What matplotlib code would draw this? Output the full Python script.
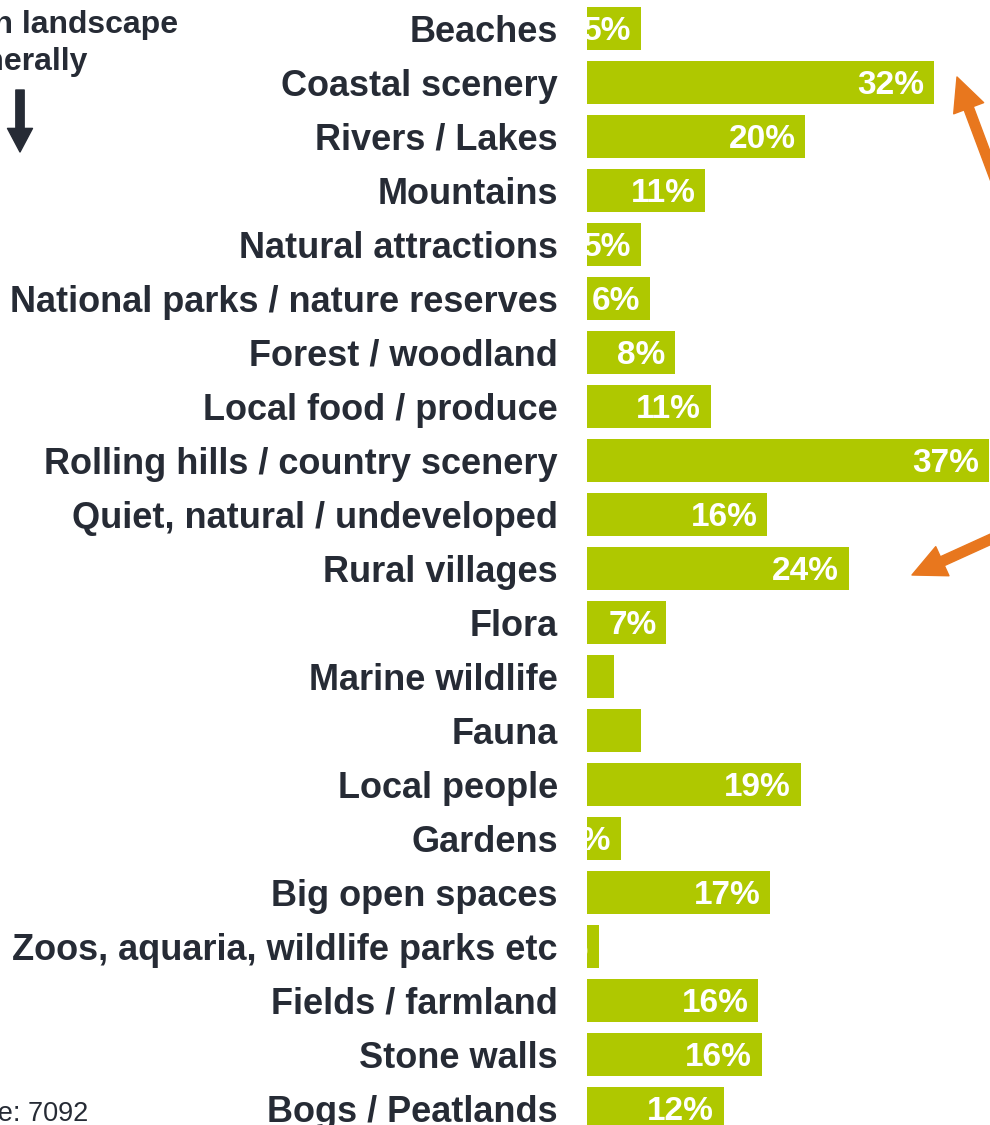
import matplotlib.pyplot as plt

plt.rcParams['font.family'] = ['Liberation Sans', 'DejaVu Sans']

categories = ['Beaches', 'Coastal scenery', 'Rivers / Lakes', 'Mountains', 'Natural attractions',
              'National parks / nature reserves', 'Forest / woodland', 'Local food / produce',
              'Rolling hills / country scenery', 'Quiet, natural / undeveloped', 'Rural villages',
              'Flora', 'Marine wildlife', 'Fauna', 'Local people', 'Gardens', 'Big open spaces',
              'Zoos, aquaria, wildlife parks etc', 'Fields / farmland', 'Stone walls', 'Bogs / Peatlands']
values = [5.0, 32.0, 20.1, 10.9, 5.0, 5.8, 8.1, 11.4, 37.0, 16.6, 24.1,
          7.3, 2.5, 5.0, 19.7, 3.1, 16.9, 1.1, 15.8, 16.1, 12.6]
labels = ['5%', '32%', '20%', '11%', '5%', '6%', '8%', '11%', '37%', '16%', '24%',
          '7%', '', '', '19%', '3%', '17%', '1%', '16%', '16%', '12%']

green = '#afc800'
orange = '#e8771e'
dark = '#262b35'

W, H = 990, 1125
fig = plt.figure(figsize=(W / 100, H / 100), dpi=100)

# axes placed in pixels: bars start at x=587, rows 54 px apart
ax = fig.add_axes([587 / W, (H - 1135.5) / H, 407 / W, 1134 / H])
y = list(range(len(categories)))
ax.barh(y, values, height=0.8, color=green)
ax.set_xlim(0, 37.5)
ax.set_ylim(len(categories) - 0.5, -0.5)
ax.set_yticks(y)
ax.set_yticklabels(categories, fontsize=26, fontweight='bold', color=dark)
ax.tick_params(axis='y', length=0, pad=21)
ax.set_xticks([])
for s in ax.spines.values():
    s.set_visible(False)

for i, (v, lab) in enumerate(zip(values, labels)):
    ax.text(v - 0.9, i + 0.22, lab, ha='right', va='baseline', color='white',
            fontsize=24, fontweight='bold', clip_on=True)

# cut-off notes on the left
fig.text(178 / W, (H - 33) / H, 'with landscape', ha='right', va='baseline',
         fontsize=23, fontweight='bold', color=dark)
fig.text(88 / W, (H - 70) / H, 'generally', ha='right', va='baseline',
         fontsize=23, fontweight='bold', color=dark)
fig.text(88 / W, (H - 1121) / H, 'Base: 7092', ha='right', va='baseline',
         fontsize=19.5, color=dark)

ax.annotate('', xy=(20, H - 152), xytext=(20, H - 90), xycoords='figure pixels',
            textcoords='figure pixels', annotation_clip=False,
            arrowprops=dict(width=6, headwidth=18, headlength=17, shrink=0,
                            facecolor=dark, edgecolor=dark))

ax.annotate('', xy=(957, H - 77), xytext=(1000, H - 192), xycoords='figure pixels',
            textcoords='figure pixels', annotation_clip=False,
            arrowprops=dict(width=7, headwidth=23, headlength=24, shrink=0,
                            facecolor=orange, edgecolor=orange))
ax.annotate('', xy=(912, H - 575), xytext=(1000, H - 535), xycoords='figure pixels',
            textcoords='figure pixels', annotation_clip=False,
            arrowprops=dict(width=7, headwidth=23, headlength=24, shrink=0,
                            facecolor=orange, edgecolor=orange))

fig.savefig('out.png', dpi=100)
